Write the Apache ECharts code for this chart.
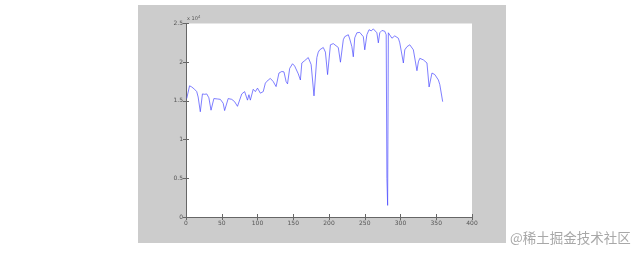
<!DOCTYPE html>
<html>
<head>
<meta charset="utf-8">
<script src="https://cdn.jsdelivr.net/npm/echarts@6/dist/echarts.min.js"></script>
<style>
  html, body { margin: 0; padding: 0; background: #ffffff; }
  #wrap { position: relative; width: 641px; height: 255px; }
  #panel { position: absolute; left: 138px; top: 5px; width: 368px; height: 238px; background: #cccccc; }
  #chart { position: absolute; left: 0; top: 0; width: 641px; height: 255px; }
</style>
</head>
<body>
<div id="wrap">
  <div id="panel"></div>
  <div id="chart"></div>
</div>
<script>
// Data (x = index, y = value)
const days = [1, 5, 8, 12, 15, 17, 20, 23, 26, 29, 32, 35, 39, 44, 48, 52, 54, 59, 64, 68, 72, 78, 82, 86, 88, 90, 94, 97, 100, 104, 108, 111, 115, 118, 122, 126, 130, 134, 137, 140, 142, 145, 149, 152, 157, 160, 162, 166, 171, 173, 175, 179, 183, 185, 187, 192, 195, 198, 202, 206, 208, 213, 216, 220, 222, 227, 229, 232, 234, 236, 239, 243, 248, 250, 253, 256, 259, 262, 267, 269, 271, 274, 278, 280, 281, 282, 283, 288, 290, 292, 297, 299, 304, 306, 309, 313, 318, 323, 325, 327, 332, 337, 340, 344, 348, 353, 355, 359];
const values = [15300, 16950, 16800, 16500, 16200, 15500, 13600, 15900, 15850, 15900, 15400, 13800, 15300, 15250, 15200, 14700, 13750, 15300, 15200, 14900, 14300, 15900, 16200, 15100, 15800, 15100, 16500, 16200, 16650, 16000, 16200, 17300, 17700, 17900, 17500, 16850, 18600, 18800, 18750, 17500, 17200, 19200, 19800, 19500, 18500, 17700, 19900, 20200, 20600, 20600, 19700, 15650, 20600, 21300, 21600, 21900, 21300, 18400, 22250, 22400, 22550, 21900, 20000, 22900, 23300, 23550, 23000, 22000, 20700, 23150, 23800, 23850, 23300, 21600, 23550, 24200, 24050, 24300, 23800, 22500, 23800, 24100, 24000, 23550, 5000, 1500, 23800, 23100, 22900, 23400, 23100, 22500, 19900, 21600, 22000, 22250, 21600, 18900, 20050, 20500, 20300, 19900, 16800, 18600, 18400, 17700, 17100, 14900];
const xTickLabels = ['0', '50', '100', '150', '200', '250', '300', '350', '400'];
const yTickLabels = ['0', '0.5', '1', '1.5', '2', '2.5'];

const seriesData = days.map((d, i) => [d, values[i]]);

const chart = echarts.init(document.getElementById('chart'), null, { renderer: 'canvas' });

const axisCommon = {
  axisLine: { show: true, lineStyle: { color: '#666666', width: 1 } },
  axisTick: { show: true, inside: true, length: 3, lineStyle: { color: '#666666', width: 1 } },
  splitLine: { show: false }
};

chart.setOption({
  animation: false,
  backgroundColor: 'transparent',
  grid: {
    left: 186, top: 23.5, right: 169, bottom: 38,
    show: true, backgroundColor: '#ffffff', borderWidth: 0
  },
  xAxis: [
    Object.assign({
      type: 'value', position: 'bottom', min: 0, max: 400, interval: 50,
      axisLabel: {
        fontSize: 6, color: '#555555', margin: 3, fontFamily: 'DejaVu Sans',
        formatter: (v) => xTickLabels[Math.round(v / 50)]
      }
    }, axisCommon),
    Object.assign({
      type: 'value', position: 'top', min: 0, max: 400, interval: 50,
      axisLabel: { show: false }
    }, axisCommon)
  ],
  yAxis: [
    Object.assign({
      type: 'value', position: 'left', min: 0, max: 25000, interval: 5000,
      axisLabel: {
        fontSize: 6, color: '#555555', margin: 3, fontFamily: 'DejaVu Sans',
        formatter: (v) => yTickLabels[Math.round(v / 5000)]
      }
    }, axisCommon),
    Object.assign({
      type: 'value', position: 'right', min: 0, max: 25000, interval: 5000,
      axisLabel: { show: false }
    }, axisCommon)
  ],
  graphic: [
    {
      type: 'text', left: 187, top: 15,
      style: {
        text: 'x 10{s|4}', fontSize: 5, fill: '#555555', fontFamily: 'DejaVu Sans',
        rich: { s: { fontSize: 4, verticalAlign: 'top', padding: [0, 0, 3, 0], fill: '#555555' } }
      }
    },
    {
      type: 'text', left: 510, top: 231,
      style: {
        text: '@稀土掘金技术社区', fontSize: 13.5, fill: '#a8a8a8',
        fontFamily: 'Noto Sans CJK SC'
      }
    }
  ],
  series: [{
    type: 'line',
    xAxisIndex: 0, yAxisIndex: 0,
    data: seriesData,
    showSymbol: false,
    lineStyle: { color: '#4848ff', width: 0.7 }
  }]
});
</script>
</body>
</html>
